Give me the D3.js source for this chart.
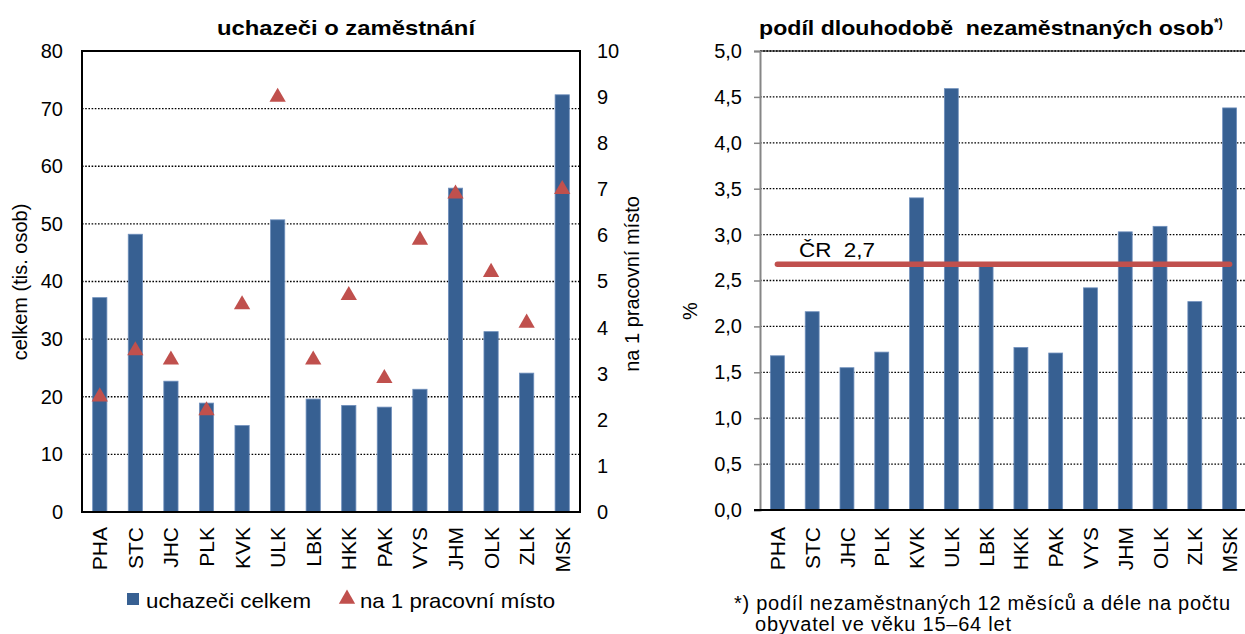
<!DOCTYPE html>
<html>
<head>
<meta charset="utf-8">
<script src="https://cdn.jsdelivr.net/npm/d3@7"></script>
<style>
  body { margin: 0; background: #fff; }
  svg { font-family: "Liberation Sans", Arial, sans-serif; }
  .grid line { stroke: #000; stroke-width: 1.3; stroke-dasharray: 1.6,1.6; }
  .axis text { font-size: 20px; fill: #000; }
  .pre { white-space: pre; }
</style>
</head>
<body>
<svg id="chart" width="1245" height="634"></svg>
<script>
// kraje
var regions = ["PHA", "STC", "JHC", "PLK", "KVK", "ULK", "LBK", "HKK", "PAK", "VYS", "JHM", "OLK", "ZLK", "MSK"];
// uchazeci celkem (tis. osob)
var applicants = [37.2, 48.2, 22.7, 18.9, 15.0, 50.7, 19.6, 18.5, 18.2, 21.3, 56.2, 31.3, 24.1, 72.4];
// uchazeci na 1 pracovni misto
var perVacancy = [2.5, 3.5, 3.3, 2.2, 4.5, 9.0, 3.3, 4.7, 2.9, 5.9, 6.9, 5.2, 4.1, 7.0];
// podil dlouhodobe nezamestnanych (%)
var longTerm = [1.68, 2.16, 1.55, 1.72, 3.40, 4.59, 2.66, 1.77, 1.71, 2.42, 3.03, 3.09, 2.27, 4.38];
var crAverage = 2.7;

var leftTicks = [0, 10, 20, 30, 40, 50, 60, 70, 80];
var rightTicks = [0, 1, 2, 3, 4, 5, 6, 7, 8, 9, 10];
var pctTicks = [0, 0.5, 1, 1.5, 2, 2.5, 3, 3.5, 4, 4.5, 5];

var barColor = "#376092";
var triColor = "#C0504D";

var svg = d3.select("#chart");
var comma = function (d) { return d.toFixed(1).replace(".", ","); };

// ---------- left chart ----------
var L = { left: 82, right: 580, top: 51, bottom: 512 };

var x1 = d3.scaleBand().domain(regions).range([L.left, L.right])
  .paddingInner(0.6).paddingOuter(0.3);
var y1 = d3.scaleLinear().domain([0, 80]).range([L.bottom, L.top]);
var y1r = d3.scaleLinear().domain([0, 10]).range([L.bottom, L.top]);

var g1 = svg.append("g");

g1.append("g").attr("class", "grid")
  .selectAll("line").data(leftTicks.slice(1, -1)).enter().append("line")
  .attr("x1", L.left).attr("x2", L.right)
  .attr("y1", function (d) { return y1(d); })
  .attr("y2", function (d) { return y1(d); });

g1.selectAll(".bar").data(applicants).enter().append("rect")
  .attr("class", "bar")
  .attr("x", function (d, i) { return x1(regions[i]); })
  .attr("y", function (d) { return y1(d); })
  .attr("width", x1.bandwidth())
  .attr("height", function (d) { return y1(0) - y1(d); })
  .attr("fill", barColor)
  .attr("stroke", "#6f8fbc").attr("stroke-width", 0.8);

var tri = d3.symbol().type(d3.symbolTriangle).size(115);
g1.selectAll(".tri").data(perVacancy).enter().append("path")
  .attr("class", "tri")
  .attr("d", tri)
  .attr("transform", function (d, i) {
    return "translate(" + (x1(regions[i]) + x1.bandwidth() / 2) + "," + y1r(d) + ")";
  })
  .attr("fill", triColor);

// frame
g1.append("rect")
  .attr("x", L.left).attr("y", L.top)
  .attr("width", L.right - L.left).attr("height", L.bottom - L.top)
  .attr("fill", "none").attr("stroke", "#000").attr("stroke-width", 2);

g1.append("g").attr("class", "axis")
  .attr("transform", "translate(" + L.left + ",0)")
  .call(d3.axisLeft(y1).tickValues(leftTicks).tickSize(0).tickPadding(19))
  .call(function (g) { g.select(".domain").remove(); });

g1.append("g").attr("class", "axis")
  .attr("transform", "translate(" + L.right + ",0)")
  .call(d3.axisRight(y1r).tickValues(rightTicks).tickSize(0).tickPadding(17))
  .call(function (g) { g.select(".domain").remove(); });

g1.append("g").attr("class", "axis")
  .attr("transform", "translate(0," + L.bottom + ")")
  .call(d3.axisBottom(x1).tickSize(0))
  .call(function (g) { g.select(".domain").remove(); })
  .selectAll("text")
  .attr("transform", "rotate(-90)")
  .attr("x", -15).attr("y", 0).attr("dy", "0.36em")
  .style("font-size", "21px")
  .style("text-anchor", "end");

g1.append("text")
  .attr("x", 217).attr("y", 35)
  .attr("textLength", 258).attr("lengthAdjust", "spacingAndGlyphs")
  .style("font-size", "21px").style("font-weight", "bold")
  .text("uchazeči o zaměstnání");

g1.append("text")
  .attr("transform", "translate(27,282) rotate(-90)")
  .attr("text-anchor", "middle")
  .style("font-size", "20px")
  .text("celkem (tis. osob)");

g1.append("text")
  .attr("transform", "translate(639,284) rotate(-90)")
  .attr("text-anchor", "middle")
  .style("font-size", "20px")
  .text("na 1 pracovní místo");

// legend
var lg = g1.append("g");
lg.append("rect").attr("x", 127).attr("y", 593).attr("width", 12).attr("height", 12).attr("fill", barColor);
lg.append("text").attr("x", 146).attr("y", 608).style("font-size", "21px")
  .attr("textLength", 165).attr("lengthAdjust", "spacingAndGlyphs")
  .text("uchazeči celkem");
lg.append("path").attr("d", tri).attr("transform", "translate(347,599)").attr("fill", triColor);
lg.append("text").attr("x", 360).attr("y", 608).style("font-size", "21px")
  .attr("textLength", 195).attr("lengthAdjust", "spacingAndGlyphs")
  .text("na 1 pracovní místo");

// ---------- right chart ----------
var R = { left: 760, right: 1247, top: 51, bottom: 510 };

var x2 = d3.scaleBand().domain(regions).range([R.left, R.right])
  .paddingInner(0.6).paddingOuter(0.3);
var y2 = d3.scaleLinear().domain([0, 5]).range([R.bottom, R.top]);

var g2 = svg.append("g");

g2.append("g").attr("class", "grid")
  .selectAll("line").data(pctTicks.slice(1)).enter().append("line")
  .attr("x1", R.left).attr("x2", R.right)
  .attr("y1", function (d) { return y2(d); })
  .attr("y2", function (d) { return y2(d); });

g2.append("line")
  .attr("x1", R.left).attr("x2", R.right)
  .attr("y1", y2(5)).attr("y2", y2(5))
  .attr("stroke", "#000").attr("stroke-width", 1.2);

g2.selectAll(".bar").data(longTerm).enter().append("rect")
  .attr("class", "bar")
  .attr("x", function (d, i) { return x2(regions[i]); })
  .attr("y", function (d) { return y2(d); })
  .attr("width", x2.bandwidth())
  .attr("height", function (d) { return y2(0) - y2(d); })
  .attr("fill", barColor)
  .attr("stroke", "#6f8fbc").attr("stroke-width", 0.8);

g2.append("line")
  .attr("x1", x2(regions[0]) + x2.bandwidth() / 2)
  .attr("x2", x2(regions[regions.length - 1]) + x2.bandwidth() / 2)
  .attr("y1", y2(crAverage) + 2).attr("y2", y2(crAverage) + 2)
  .attr("stroke", triColor).attr("stroke-width", 5.5)
  .attr("stroke-linecap", "round");

g2.append("text")
  .attr("class", "pre")
  .attr("x", 799).attr("y", y2(crAverage) - 5)
  .attr("textLength", 76).attr("lengthAdjust", "spacingAndGlyphs")
  .style("font-size", "20px")
  .text("ČR  " + comma(crAverage));

g2.append("g").attr("class", "axis")
  .attr("transform", "translate(" + R.left + ",0)")
  .call(d3.axisLeft(y2).tickValues(pctTicks).tickFormat(comma).tickSize(6).tickPadding(12))
  .call(function (g) {
    g.select(".domain").attr("stroke", "#868686").attr("stroke-width", 2);
    g.selectAll(".tick line").attr("stroke", "#868686").attr("stroke-width", 1.5);
  });

g2.append("line")
  .attr("x1", R.left - 6).attr("x2", R.right)
  .attr("y1", R.bottom).attr("y2", R.bottom)
  .attr("stroke", "#000").attr("stroke-width", 2);

g2.append("g").attr("class", "axis")
  .attr("transform", "translate(0," + R.bottom + ")")
  .call(d3.axisBottom(x2).tickSize(0))
  .call(function (g) { g.select(".domain").remove(); })
  .selectAll("text")
  .attr("transform", "rotate(-90)")
  .attr("x", -17).attr("y", 0).attr("dy", "0.36em")
  .style("font-size", "21px")
  .style("text-anchor", "end");

var t2 = g2.append("text")
  .attr("class", "pre")
  .attr("x", 759).attr("y", 35)
  .style("font-size", "21px").style("font-weight", "bold");
t2.append("tspan")
  .attr("textLength", 455).attr("lengthAdjust", "spacingAndGlyphs")
  .text("podíl dlouhodobě  nezaměstnaných osob");
t2.append("tspan").attr("dy", -8).style("font-size", "12px").text("*)");

g2.append("text")
  .attr("transform", "translate(697,311) rotate(-90)")
  .attr("text-anchor", "middle")
  .style("font-size", "20px")
  .text("%");

g2.append("text")
  .attr("x", 734).attr("y", 610)
  .attr("textLength", 496).attr("lengthAdjust", "spacing")
  .style("font-size", "20px")
  .text("*) podíl nezaměstnaných 12 měsíců a déle na počtu");
g2.append("text")
  .attr("x", 755).attr("y", 631)
  .attr("textLength", 256).attr("lengthAdjust", "spacing")
  .style("font-size", "20px")
  .text("obyvatel ve věku 15–64 let");
</script>
</body>
</html>
